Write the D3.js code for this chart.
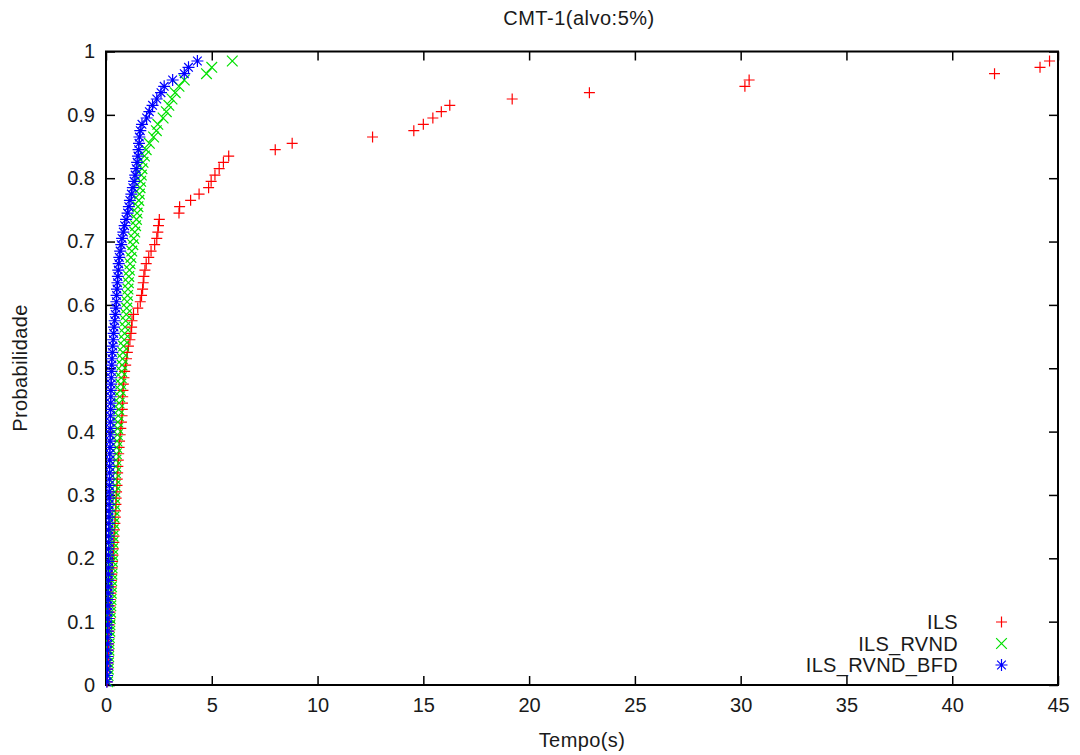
<!DOCTYPE html>
<html>
<head>
<meta charset="utf-8">
<script src="https://cdn.jsdelivr.net/npm/d3@7"></script>
<style>
  html, body { margin: 0; padding: 0; background: #fff; }
  svg { display: block; font-family: "Liberation Sans", Arial, sans-serif; }
</style>
</head>
<body>
<svg id="chart" width="1080" height="755"></svg>
<script>
// Time-to-target runs (seconds), sorted; the i-th run sits at probability (i - 0.5) / N.
const runsTotal = 100;

const ilsTimes = [
  0.05, 0.07, 0.08, 0.09, 0.10, 0.11, 0.12, 0.13, 0.14, 0.15,
  0.17, 0.18, 0.19, 0.20, 0.22, 0.24, 0.25, 0.27, 0.29, 0.31,
  0.33, 0.35, 0.37, 0.38, 0.40, 0.42, 0.44, 0.45, 0.47, 0.48,
  0.50, 0.52, 0.53, 0.55, 0.56, 0.58, 0.60, 0.62, 0.64, 0.67,
  0.70, 0.73, 0.76, 0.77, 0.78, 0.79, 0.80, 0.82, 0.85, 0.88,
  0.93, 0.97, 1.01, 1.06, 1.13, 1.18, 1.21, 1.23, 1.30, 1.50,
  1.62, 1.68, 1.73, 1.76, 1.79, 1.84, 1.90, 2.02, 2.13, 2.30,
  2.40, 2.45, 2.48, 2.52, 3.45, 3.48, 4.00, 4.40, 4.85, 4.97,
  5.15, 5.35, 5.55, 5.80, 8.00, 8.80, 12.60, 14.55, 15.00, 15.45,
  15.85, 16.25, 19.20, 22.85, 30.20, 30.40, 42.00, 44.15, 44.60
];

const ilsRvndTimes = [
  0.08, 0.10, 0.11, 0.12, 0.13, 0.14, 0.15, 0.16, 0.18, 0.19,
  0.20, 0.22, 0.23, 0.24, 0.25, 0.26, 0.27, 0.28, 0.29, 0.30,
  0.31, 0.31, 0.32, 0.33, 0.34, 0.36, 0.37, 0.38, 0.40, 0.41,
  0.42, 0.43, 0.44, 0.45, 0.46, 0.47, 0.49, 0.50, 0.52, 0.54,
  0.55, 0.56, 0.58, 0.60, 0.62, 0.65, 0.68, 0.70, 0.72, 0.74,
  0.76, 0.78, 0.80, 0.83, 0.86, 0.88, 0.90, 0.93, 0.96, 0.98,
  1.00, 1.02, 1.04, 1.06, 1.08, 1.11, 1.14, 1.18, 1.22, 1.27,
  1.31, 1.36, 1.40, 1.44, 1.47, 1.51, 1.55, 1.58, 1.61, 1.64,
  1.67, 1.70, 1.75, 1.82, 1.90, 2.05, 2.25, 2.38, 2.45, 2.70,
  2.85, 2.97, 3.12, 3.27, 3.45, 3.70, 4.75, 5.00, 5.97
];

const ilsRvndBfdTimes = [
  0.04, 0.05, 0.05, 0.06, 0.06, 0.07, 0.07, 0.08, 0.08, 0.08,
  0.09, 0.09, 0.09, 0.10, 0.10, 0.10, 0.11, 0.11, 0.11, 0.12,
  0.12, 0.12, 0.13, 0.13, 0.13, 0.14, 0.14, 0.14, 0.15, 0.15,
  0.15, 0.16, 0.16, 0.17, 0.17, 0.18, 0.18, 0.19, 0.19, 0.20,
  0.20, 0.21, 0.21, 0.22, 0.22, 0.23, 0.23, 0.24, 0.25, 0.26,
  0.27, 0.28, 0.30, 0.32, 0.34, 0.36, 0.38, 0.41, 0.44, 0.47,
  0.49, 0.50, 0.52, 0.54, 0.56, 0.58, 0.60, 0.63, 0.67, 0.72,
  0.76, 0.82, 0.88, 0.95, 1.02, 1.08, 1.13, 1.20, 1.27, 1.33,
  1.38, 1.43, 1.47, 1.51, 1.54, 1.56, 1.58, 1.62, 1.70, 1.92,
  2.05, 2.20, 2.40, 2.60, 2.75, 3.15, 3.70, 3.90, 4.32
];

const seriesNames = ["ILS", "ILS_RVND", "ILS_RVND_BFD"];
const seriesColors = ["#ff0000", "#00e000", "#0000ff"];
const seriesSymbols = ["plus", "cross", "star"];

const xTicks = [0, 5, 10, 15, 20, 25, 30, 35, 40, 45];
const yTicks = [0, 0.1, 0.2, 0.3, 0.4, 0.5, 0.6, 0.7, 0.8, 0.9, 1];

const titleText = "CMT-1(alvo:5%)";
const xLabel = "Tempo(s)";
const yLabel = "Probabilidade";

// ---- layout ----
const svg = d3.select("#chart");
const plotLeft = 106, plotRight = 1058, plotTop = 51.5, plotBottom = 685;
const fontSize = "20px";
const textColor = "#1a1a1a";

const x = d3.scaleLinear().domain([0, 45]).range([plotLeft, plotRight]);
const y = d3.scaleLinear().domain([0, 1]).range([plotBottom, plotTop]);

const series = [ilsTimes, ilsRvndTimes, ilsRvndBfdTimes].map((times, k) => ({
  name: seriesNames[k],
  color: seriesColors[k],
  symbol: seriesSymbols[k],
  points: times.map((t, i) => ({ t, p: (i + 0.5) / runsTotal }))
}));

// symbol path generators (gnuplot-style point types)
function symbolPath(kind, s) {
  const h = s / 2;
  const plus = `M${-h},0H${h}M0,${-h}V${h}`;
  const d = h * 0.82;
  const cross = `M${-d},${-d}L${d},${d}M${-d},${d}L${d},${-d}`;
  if (kind === "plus") return plus;
  if (kind === "cross") return cross;
  const d2 = h * 0.72;
  return plus + `M${-d2},${-d2}L${d2},${d2}M${-d2},${d2}L${d2},${-d2}`;
}
const symbolSize = { plus: 11, cross: 13, star: 12 };

// ---- axes (ticks pointing inward on all four sides) ----
const tickLen = 9;
const axisColor = "#000";

const xBottom = d3.axisBottom(x).tickValues(xTicks).tickSize(-tickLen).tickPadding(13).tickFormat(d3.format("d"));
const xTop = d3.axisTop(x).tickValues(xTicks).tickSize(-tickLen).tickFormat("");
const yLeft = d3.axisLeft(y).tickValues(yTicks).tickSize(-tickLen).tickPadding(11).tickFormat(d => d === 0 || d === 1 ? d3.format("d")(d) : d3.format(".1f")(d));
const yRight = d3.axisRight(y).tickValues(yTicks).tickSize(-tickLen).tickFormat("");

function styleAxis(g) {
  g.select(".domain").remove();
  g.selectAll(".tick line").attr("stroke", axisColor).attr("stroke-width", 1.5);
  g.selectAll(".tick text").attr("fill", textColor).style("font-size", fontSize)
    .style("font-family", "\"Liberation Sans\", Arial, sans-serif");
}

svg.append("g").attr("transform", `translate(0,${plotBottom})`).call(xBottom).call(styleAxis)
  .selectAll(".tick text").attr("dy", "0.71em");
svg.append("g").attr("transform", `translate(0,${plotTop})`).call(xTop).call(styleAxis);
svg.append("g").attr("transform", `translate(${plotLeft},0)`).call(yLeft).call(styleAxis);
svg.append("g").attr("transform", `translate(${plotRight},0)`).call(yRight).call(styleAxis);

// border frame
svg.append("rect")
  .attr("x", plotLeft).attr("y", plotTop)
  .attr("width", plotRight - plotLeft).attr("height", plotBottom - plotTop)
  .attr("fill", "none").attr("stroke", axisColor).attr("stroke-width", 2);

// ---- points ----
svg.append("defs").append("clipPath").attr("id", "plot-clip")
  .append("rect").attr("x", plotLeft).attr("y", plotTop - 10)
  .attr("width", plotRight - plotLeft).attr("height", plotBottom - plotTop + 20);

const plot = svg.append("g").attr("clip-path", "url(#plot-clip)");
series.forEach(s => {
  plot.append("g")
    .attr("stroke", s.color)
    .attr("stroke-width", 1.2)
    .attr("fill", "none")
    .selectAll("path")
    .data(s.points)
    .join("path")
    .attr("transform", d => `translate(${x(d.t)},${y(d.p)})`)
    .attr("d", symbolPath(s.symbol, symbolSize[s.symbol]));
});

// ---- legend ----
const legendRows = [622, 643.5, 665];
const legend = svg.append("g");
series.forEach((s, k) => {
  legend.append("text")
    .attr("x", 958).attr("y", legendRows[k])
    .attr("dy", "0.35em")
    .attr("text-anchor", "end")
    .attr("fill", textColor)
    .style("font-size", fontSize)
    .style("letter-spacing", "0.3px")
    .text(s.name);
  legend.append("path")
    .attr("transform", `translate(1001.5,${legendRows[k]})`)
    .attr("d", symbolPath(s.symbol, symbolSize[s.symbol]))
    .attr("stroke", s.color).attr("stroke-width", 1.2).attr("fill", "none");
});

// ---- titles ----
svg.append("text")
  .attr("x", 579).attr("y", 18)
  .attr("dy", "0.35em")
  .attr("text-anchor", "middle")
  .attr("fill", textColor)
  .style("font-size", fontSize)
  .style("letter-spacing", "0.5px")
  .text(titleText);

svg.append("text")
  .attr("x", 582).attr("y", 740)
  .attr("dy", "0.35em")
  .attr("text-anchor", "middle")
  .attr("fill", textColor)
  .style("font-size", fontSize)
  .style("letter-spacing", "0.4px")
  .text(xLabel);

svg.append("text")
  .attr("transform", `translate(20,368) rotate(-90)`)
  .attr("dy", "0.35em")
  .attr("text-anchor", "middle")
  .attr("fill", textColor)
  .style("font-size", fontSize)
  .style("letter-spacing", "0.4px")
  .text(yLabel);
</script>
</body>
</html>
